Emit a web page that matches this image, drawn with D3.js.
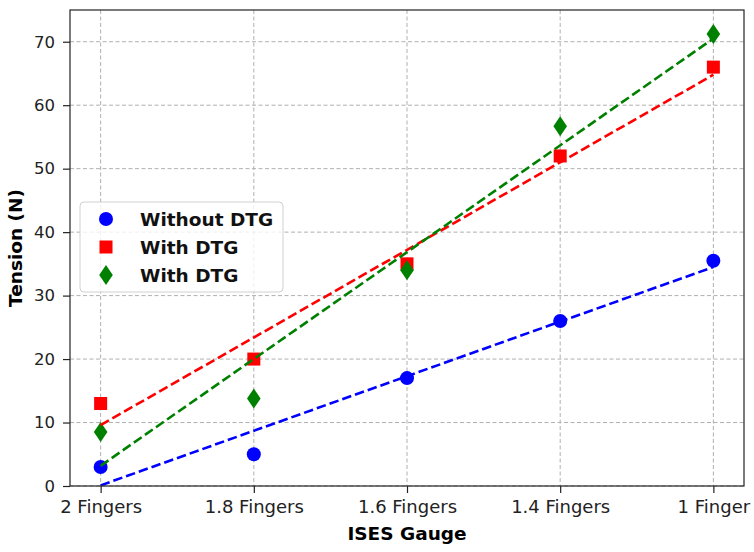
<!DOCTYPE html>
<html><head><meta charset="utf-8">
<script src="https://cdn.jsdelivr.net/npm/d3@7"></script>
<style>body{margin:0;background:#fff}svg{display:block}</style>
</head><body>
<svg id="c" width="754" height="552"></svg>
<script>
const categories = ["2 Fingers","1.8 Fingers","1.6 Fingers","1.4 Fingers","1 Finger"];
const withoutDTG = [3, 5, 17, 26, 35.5];
const withDTGRed = [13, 20, 35, 52, 66];
const withDTGGreen = [8.5, 13.8, 34, 56.7, 71.2];
const yTicks = [0,10,20,30,40,50,60,70];
const seriesNames = ["Without DTG","With DTG","With DTG"];

const W=754,H=552;
const m={l:70,r:10,t:10,b:66};
const svg=d3.select("#c");
const x=d3.scaleLinear().domain([-0.2,4.2]).range([m.l,W-m.r]);
const y=d3.scaleLinear().domain([0,75]).range([H-m.b,m.t]);
const font="DejaVu Sans, sans-serif";

// grid
const g=svg.append("g");
g.selectAll("line.gx").data(categories).join("line")
 .attr("x1",(d,i)=>x(i)).attr("x2",(d,i)=>x(i)).attr("y1",y(75)).attr("y2",y(0))
 .attr("stroke","#b0b0b0").attr("stroke-width",1).attr("stroke-dasharray","4,2.5");
g.selectAll("line.gy").data(yTicks).join("line")
 .attr("x1",m.l).attr("x2",W-m.r).attr("y1",d=>y(d)).attr("y2",d=>y(d))
 .attr("stroke","#b0b0b0").attr("stroke-width",1).attr("stroke-dasharray","4,2.5");

function fit(vals){
  const n=vals.length, xs=vals.map((v,i)=>i);
  const mx=d3.mean(xs), my=d3.mean(vals);
  const s=d3.sum(xs.map((xi,i)=>(xi-mx)*(vals[i]-my)))/d3.sum(xs.map(xi=>(xi-mx)**2));
  const b=my-s*mx;
  return [[0,b],[n-1,b+s*(n-1)]];
}
const series=[
 {v:withoutDTG,c:"#0000ff",shape:"circle"},
 {v:withDTGRed,c:"#ff0000",shape:"square"},
 {v:withDTGGreen,c:"#008000",shape:"diamond"}
];
function marker(sel,shape,c){
  if(shape==="circle") sel.append("circle").attr("r",7).attr("fill",c);
  else if(shape==="square") sel.append("rect").attr("x",-6.5).attr("y",-6.5).attr("width",13).attr("height",13).attr("fill",c);
  else sel.append("path").attr("d","M0,-10L6.8,0L0,10L-6.8,0Z").attr("fill",c);
}
const line=d3.line().x(d=>x(d[0])).y(d=>y(d[1]));
series.forEach(s=>{
  s.v.forEach((v,i)=>{
    const p=svg.append("g").attr("transform",`translate(${x(i)},${y(v)})`);
    marker(p,s.shape,s.c);
  });
});
series.forEach(s=>{
  svg.append("path").attr("d",line(fit(s.v))).attr("fill","none").attr("stroke",s.c)
   .attr("stroke-width",2.6).attr("stroke-dasharray","9.5,4");
});

// axes
const xa=svg.append("g").attr("transform",`translate(0,${H-m.b})`)
 .call(d3.axisBottom(x).tickValues([0,1,2,3,4]).tickFormat(i=>categories[i]).tickSizeOuter(0).tickSize(7).tickPadding(7));
const ya=svg.append("g").attr("transform",`translate(${m.l},0)`)
 .call(d3.axisLeft(y).tickValues(yTicks).tickSizeOuter(0).tickSize(7).tickPadding(8));
[xa,ya].forEach(a=>{a.select(".domain").remove();a.selectAll("text").attr("font-family",font).attr("fill","#222");a.selectAll(".tick line").attr("stroke","#222").attr("stroke-width",1.2);});
xa.selectAll("text").attr("font-size",18);
ya.selectAll("text").attr("font-size",16.5);
svg.append("rect").attr("x",m.l).attr("y",m.t).attr("width",W-m.r-m.l).attr("height",H-m.b-m.t)
 .attr("fill","none").attr("stroke","#222").attr("stroke-width",1.2);

svg.append("text").attr("x",(m.l+W-m.r)/2).attr("y",540).attr("text-anchor","middle")
 .attr("font-family",font).attr("font-weight","bold").attr("font-size",18.5).text("ISES Gauge");
svg.append("text").attr("transform",`translate(22,${(m.t+H-m.b)/2}) rotate(-90)`).attr("text-anchor","middle")
 .attr("font-family",font).attr("font-weight","bold").attr("font-size",18.5).text("Tension (N)");

// legend
const lg=svg.append("g").attr("transform","translate(80,202)");
lg.append("rect").attr("width",203).attr("height",90).attr("rx",4).attr("fill","#fff").attr("fill-opacity",0.8)
 .attr("stroke","#d0d0d0").attr("stroke-width",1);
series.forEach((s,i)=>{
  const r=lg.append("g").attr("transform",`translate(26,${17+i*28})`);
  marker(r,s.shape,s.c);
  r.append("text").attr("x",34).attr("y",6.5).attr("font-family",font).attr("font-weight","bold")
   .attr("font-size",18.5).attr("fill","#111").text(seriesNames[i]);
});
</script>
</body></html>
